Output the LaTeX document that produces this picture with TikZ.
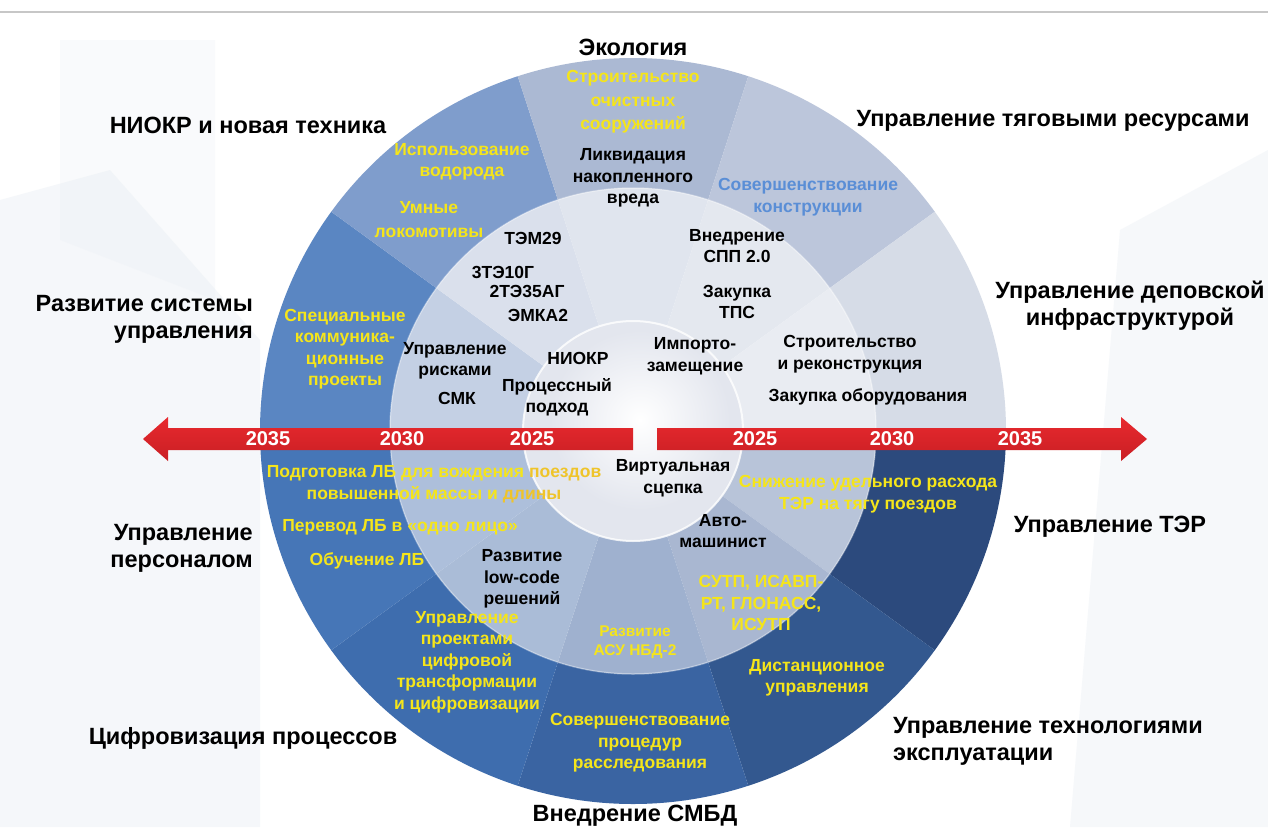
\documentclass[tikz,border=0pt]{standalone}
\usepackage{fontspec}
\setmainfont{Liberation Sans}
\usepackage{tikz}
\usetikzlibrary{calc}

\definecolor{ringTER}{HTML}{2C4A7D}
\definecolor{ringTech}{HTML}{33588F}
\definecolor{ringSmbd}{HTML}{3A64A2}
\definecolor{ringDigit}{HTML}{3E6DAE}
\definecolor{ringStaff}{HTML}{4676B7}
\definecolor{ringCtrl}{HTML}{5A86C2}
\definecolor{ringNiokr}{HTML}{7F9DCC}
\definecolor{ringEco}{HTML}{ABB9D3}
\definecolor{ringTrac}{HTML}{BCC6DB}
\definecolor{ringDepot}{HTML}{D6DCE7}
\definecolor{midA}{HTML}{B8C4D9}
\definecolor{midB}{HTML}{A9B7D1}
\definecolor{midC}{HTML}{9FB1CF}
\definecolor{midD}{HTML}{AABCD7}
\definecolor{midE}{HTML}{ADBFDB}
\definecolor{midF}{HTML}{C4D0E4}
\definecolor{midG}{HTML}{DAE0EC}
\definecolor{midH}{HTML}{E0E5EE}
\definecolor{midI}{HTML}{E4E8EF}
\definecolor{midJ}{HTML}{E9ECF2}
\definecolor{diskGrey}{HTML}{E3E6EE}
\definecolor{ylw}{HTML}{F5E51A}
\definecolor{gold}{HTML}{EFC42A}
\definecolor{steel}{HTML}{5A8ED6}
\definecolor{redTop}{HTML}{E8292E}
\definecolor{redBot}{HTML}{C91F24}
\definecolor{bgTint}{HTML}{E9EEF4}

\newcommand\ringpart[5]{%
  \fill[#1] ($(ctr)+(#2:#4)$) arc[start angle=#2, end angle=#3, radius=#4]
    -- ($(ctr)+(#3:#5)$) arc[start angle=#3, end angle=#2, radius=#5] -- cycle;}

\begin{document}
\begin{tikzpicture}[
  x=1pt, y=-1pt,
  area/.style={font=\fontsize{23.5}{27}\selectfont\bfseries, align=center, inner sep=0pt},
  item/.style={font=\fontsize{17.5}{21.5}\selectfont\bfseries, align=center, inner sep=0pt},
  hint/.style={item, text=ylw},
  year/.style={font=\fontsize{20}{20}\selectfont\bfseries, text=white, inner sep=0pt},
  band/.style={top color=redTop, bottom color=redBot, draw=none}
]
\useasboundingbox (0,0) rectangle (1268,827);
\fill[white] (0,0) rectangle (1268,827);
\fill[bgTint, opacity=.45] (0,200) -- (110,170) -- (260,340) -- (260,827) -- (0,827) -- cycle;
\fill[bgTint, opacity=.4] (1268,150) -- (1120,230) -- (1070,827) -- (1268,827) -- cycle;
\fill[bgTint, opacity=.25] (60,40) -- (215,40) -- (215,300) -- (60,240) -- cycle;
\draw[line width=1.2pt, black!22] (0,12) -- (1268,12);

\coordinate (ctr) at (633,431);

\ringpart{ringTER}{0}{36}{243}{373}
\ringpart{ringTech}{36}{72}{243}{373}
\ringpart{ringSmbd}{72}{108}{243}{373}
\ringpart{ringDigit}{108}{144}{243}{373}
\ringpart{ringStaff}{144}{180}{243}{373}
\ringpart{ringCtrl}{180}{216}{243}{373}
\ringpart{ringNiokr}{216}{252}{243}{373}
\ringpart{ringEco}{252}{288}{243}{373}
\ringpart{ringTrac}{288}{324}{243}{373}
\ringpart{ringDepot}{324}{360}{243}{373}

\ringpart{midA}{0}{36}{110}{243}
\ringpart{midB}{36}{72}{110}{243}
\ringpart{midC}{72}{108}{110}{243}
\ringpart{midD}{108}{144}{110}{243}
\ringpart{midE}{144}{180}{110}{243}
\ringpart{midF}{180}{216}{110}{243}
\ringpart{midG}{216}{252}{110}{243}
\ringpart{midH}{252}{288}{110}{243}
\ringpart{midI}{288}{324}{110}{243}
\ringpart{midJ}{324}{360}{110}{243}
\draw[white, opacity=.35, line width=1.5pt] (ctr) circle[radius=243];

\fill[diskGrey] (ctr) circle[radius=110];
\shade[inner color=white, outer color=diskGrey] (640,420) circle[radius=90];
\draw[white, opacity=.8, line width=2pt] (ctr) circle[radius=110];

\shade[band] (633,428) -- (168,428) -- (168,417) -- (143,439) -- (168,461) -- (168,450) -- (633,450) -- cycle;
\shade[band] (657,428) -- (1121,428) -- (1121,417) -- (1147,439) -- (1121,461) -- (1121,450) -- (657,450) -- cycle;

\node[year] (l35) at (268,439) {2035};
\node[year] (l30) at (402,439) {2030};
\node[year] (l25) at (532,439) {2025};
\node[year] (r25) at (755,439) {2025};
\node[year] (r30) at (892,439) {2030};
\node[year] (r35) at (1020,439) {2035};

\node[area] (eco) at (633,47) {Экология};
\node[area] (niokr) at (248,125) {НИОКР и новая техника};
\node[area] (traction) at (1053,121) {Управление тяговыми ресурсами};
\node[area, anchor=east, align=right] (system) at (253,319) {Развитие системы\\управления};
\node[area] (depot) at (1130,306) {Управление деповской\\инфраструктурой};
\node[area] (ter) at (1110,527) {Управление ТЭР};
\node[area, anchor=west, align=left] (tech) at (893,741) {Управление технологиями\\эксплуатации};
\node[area] (smbd) at (635,816) {Внедрение СМБД};
\node[area] (digit) at (243,738) {Цифровизация процессов};
\node[area, anchor=east, align=right] (staff) at (253,548) {Управление\\персоналом};

\node[hint, font=\fontsize{17.5}{23.5}\selectfont\bfseries] (clean) at (633,102) {Строительство\\очистных\\сооружений};
\node[hint] (hydro) at (462,162) {Использование\\водорода};
\node[hint, font=\fontsize{17.5}{24}\selectfont\bfseries] (smart) at (429,220) {Умные\\локомотивы};
\node[hint] (comm) at (345,349) {Специальные\\коммуника-\\ционные\\проекты};
\node[item, text=steel] (constr) at (808,197) {Совершенствование\\конструкции};
\node[hint] (prep) at (434,484) {Подготовка ЛБ для вождения \textcolor{gold}{поездов}\\повышенной массы и \textcolor{gold}{длины}};
\node[hint] (oneman) at (400,527) {Перевод ЛБ в «одно лицо»};
\node[hint] (train) at (367,561) {Обучение ЛБ};
\node[hint] (projects) at (467,662) {Управление\\проектами\\цифровой\\трансформации\\и цифровизации};
\node[hint, font=\fontsize{15.5}{19}\selectfont\bfseries] (asu) at (635,642) {Развитие\\АСУ НБД-2};
\node[hint] (energy) at (868,494) {Снижение удельного расхода\\ТЭР на тягу поездов};
\node[hint] (gps) at (761,603) {СУТП, ИСАВП-\\РТ, ГЛОНАСС,\\ИСУТП};
\node[hint] (remote) at (817,678) {Дистанционное\\управления};
\node[hint] (invest) at (640,743) {Совершенствование\\процедур\\расследования};

\node[item] (likv) at (633,178) {Ликвидация\\накопленного\\вреда};
\node[item] (tem) at (533,238) {ТЭМ29};
\node[item] (te10) at (503,272) {3ТЭ10Г};
\node[item] (te35) at (527,291) {2ТЭ35АГ};
\node[item] (emka) at (538,315) {ЭМКА2};
\node[item] (risk) at (455,361) {Управление\\рисками};
\node[item] (smk) at (457,398) {СМК};
\node[item] (rnd) at (578,358) {НИОКР};
\node[item] (process) at (557,397) {Процессный\\подход};
\node[item] (import) at (695,356) {Импорто-\\замещение};
\node[item] (spp) at (737,246) {Внедрение\\СПП 2.0};
\node[item] (tps) at (737,302) {Закупка\\ТПС};
\node[item] (build) at (850,354) {Строительство\\и реконструкция};
\node[item] (equip) at (868,397) {Закупка оборудования};
\node[item] (virt) at (673,478) {Виртуальная\\сцепка};
\node[item] (auto) at (723,531) {Авто-\\машинист};
\node[item] (lowcode) at (522,579) {Развитие\\low-code\\решений};
\end{tikzpicture}
\end{document}
